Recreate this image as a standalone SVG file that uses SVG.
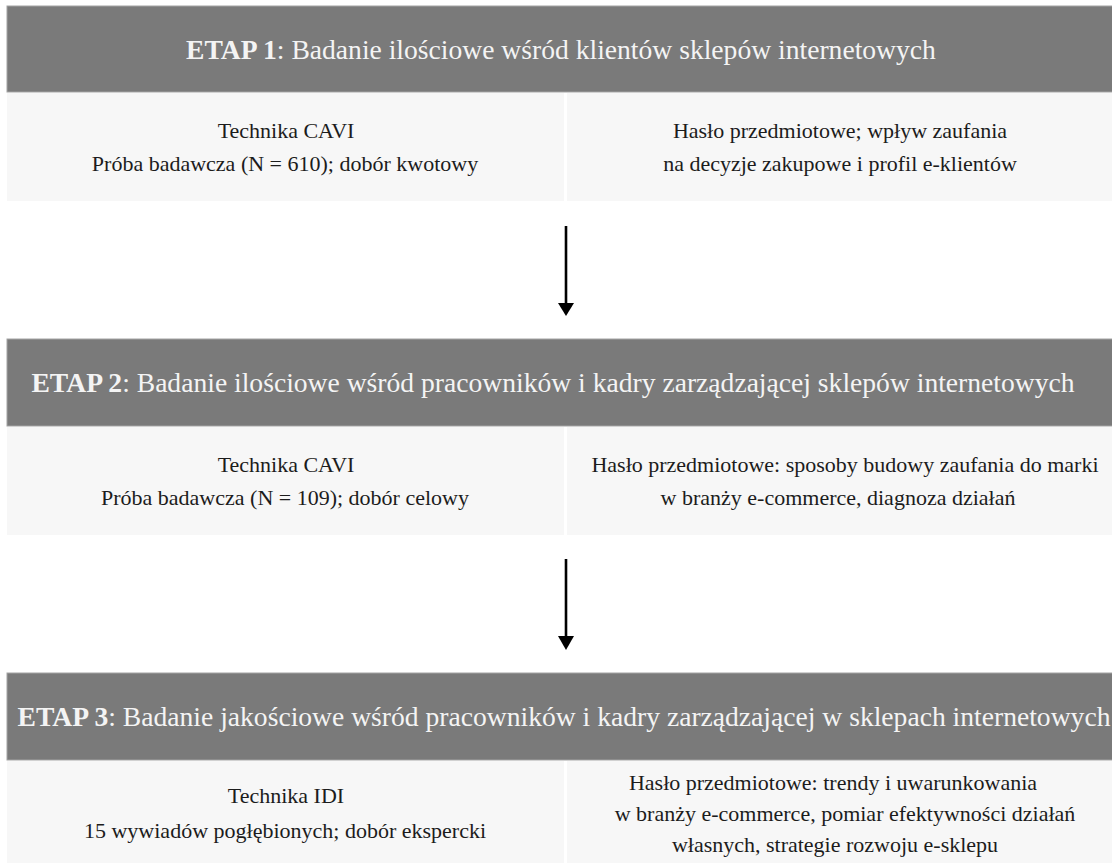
<svg xmlns="http://www.w3.org/2000/svg" width="1112" height="863" viewBox="0 0 1112 863">
<defs>
<style>
.hdr{fill:#7a7a7a;stroke:#a3a3a3;stroke-width:1}
.cell{fill:#f7f7f7}
.ht{font-family:"Liberation Serif","Times New Roman",serif;font-size:27.6px;fill:#f4f4f4;text-anchor:middle}
.ht tspan.b{font-weight:bold}
.bt{font-family:"Liberation Serif","Times New Roman",serif;font-size:22px;fill:#1c1c1c;text-anchor:middle}
.conn{stroke:#000;stroke-width:2.6;fill:none}
.head{fill:#000}
</style>
</defs>
<rect width="1112" height="863" fill="#ffffff"/>

<g id="etap1">
<rect class="hdr" x="7" y="6" width="1110" height="86"/>
<text class="ht" x="561" y="59"><tspan class="b">ETAP 1</tspan>: Badanie ilościowe wśród klientów sklepów internetowych</text>
<rect class="cell" x="7" y="93" width="557" height="108"/>
<rect class="cell" x="567" y="93" width="550" height="108"/>
<text class="bt" x="286" y="138">Technika CAVI</text>
<text class="bt" x="285" y="171">Próba badawcza (N = 610); dobór kwotowy</text>
<text class="bt" x="840" y="138">Hasło przedmiotowe; wpływ zaufania</text>
<text class="bt" x="840" y="171">na decyzje zakupowe i profil e-klientów</text>
</g>

<g id="etap2">
<rect class="hdr" x="7" y="339" width="1110" height="87"/>
<text class="ht" x="553" y="392"><tspan class="b">ETAP 2</tspan>: Badanie ilościowe wśród pracowników i kadry zarządzającej sklepów internetowych</text>
<rect class="cell" x="7" y="427" width="557" height="108"/>
<rect class="cell" x="567" y="427" width="550" height="108"/>
<text class="bt" x="286" y="472">Technika CAVI</text>
<text class="bt" x="285" y="505">Próba badawcza (N = 109); dobór celowy</text>
<text class="bt" x="845" y="472">Hasło przedmiotowe: sposoby budowy zaufania do marki</text>
<text class="bt" x="838" y="505">w branży e-commerce, diagnoza działań</text>
</g>

<g id="etap3">
<rect class="hdr" x="7" y="673" width="1110" height="87"/>
<text class="ht" x="564" y="726"><tspan class="b">ETAP 3</tspan>: Badanie jakościowe wśród pracowników i kadry zarządzającej w sklepach internetowych</text>
<rect class="cell" x="7" y="761" width="557" height="110"/>
<rect class="cell" x="567" y="761" width="550" height="110"/>
<text class="bt" x="286" y="803">Technika IDI</text>
<text class="bt" x="285" y="838">15 wywiadów pogłębionych; dobór ekspercki</text>
<text class="bt" x="833" y="790">Hasło przedmiotowe: trendy i uwarunkowania</text>
<text class="bt" x="845" y="821">w branży e-commerce, pomiar efektywności działań</text>
<text class="bt" x="835" y="852">własnych, strategie rozwoju e-sklepu</text>
</g>

<g id="connectors">
<line class="conn" x1="566" y1="226" x2="566" y2="305"/>
<polygon class="head" points="558,303 574,303 566,316"/>
<line class="conn" x1="566" y1="559" x2="566" y2="638"/>
<polygon class="head" points="558,636 574,636 566,650"/>
</g>
</svg>
